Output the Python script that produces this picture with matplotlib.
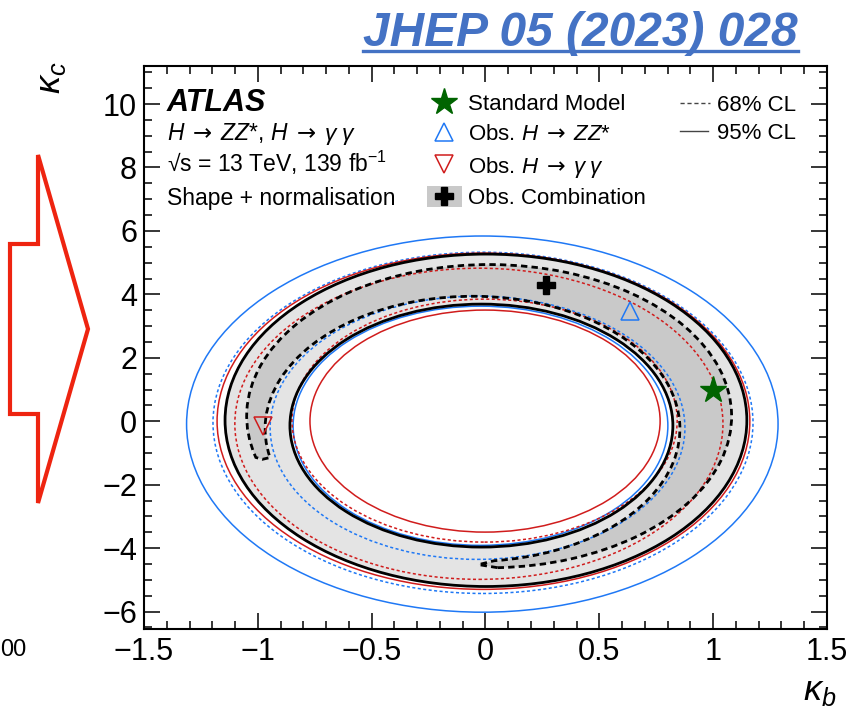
import matplotlib
matplotlib.use('Agg')
import matplotlib.pyplot as plt
from matplotlib.patches import Ellipse, PathPatch, Polygon, Rectangle
from matplotlib.path import Path
from matplotlib.transforms import Affine2D
from matplotlib.lines import Line2D
from matplotlib.ticker import MultipleLocator, FuncFormatter

plt.rcParams['font.family'] = ['Liberation Sans', 'DejaVu Sans']
plt.rcParams['mathtext.fontset'] = 'custom'
plt.rcParams['mathtext.rm'] = 'Liberation Sans'
plt.rcParams['mathtext.it'] = 'Liberation Sans:italic'
plt.rcParams['mathtext.bf'] = 'Liberation Sans:bold'
plt.rcParams['mathtext.sf'] = 'DejaVu Sans'

W, H = 853, 721

# contour rings, outer and inner edge: (kb centre, kc centre, half width, half height)
zz_95 = [(-0.014, -0.09, 1.299, 5.93), (-0.022, -0.142, 0.823, 3.77)]
zz_68 = [(-0.011, -0.05, 1.186, 5.38), (-0.035, -0.205, 0.911, 4.15)]
yy_95 = [(-0.009, 0.00, 1.170, 5.30), (-0.002, 0.005, 0.769, 3.50)]
yy_68 = [(-0.029, -0.08, 1.072, 4.905), (-0.004, 0.02, 0.846, 3.83)]
comb_95 = [(0.002, 0.03, 1.146, 5.24), (-0.018, -0.137, 0.841, 3.83)]

# combined 68% region is open: outer / inner arcs (centre, half axes, start, end angle) and the two tips
comb_68_outer = (0.016, 0.16, 1.065, 4.78, -88.0, 195.8)
comb_68_inner = (-0.057, -0.24, 0.911, 4.18, -84.0, 192.5)
comb_68_tips = [(-0.98, -1.20), (-0.03, -4.52)]

sm_point = (1.0, 1.0)
zz_best = (0.635, 3.47)
yy_best = (-0.976, -0.15)
comb_best = (0.264, 4.28)

blue = '#1f78f5'
red = '#d01c1c'
green = '#006400'

ARROW = r'\;\mathsf{\rightarrow}\;'


def fx(x):
    return x / W


def fy(y):
    return 1 - y / H


def arc_path(xc, yc, a, b, t0, t1):
    return Path.arc(t0, t1).transformed(Affine2D().scale(a, b).translate(xc, yc))


def ring(ax, rings, color, lw, ls, z):
    for xc, yc, a, b in rings:
        ax.add_patch(Ellipse((xc, yc), 2 * a, 2 * b, fill=False, ec=color,
                             lw=lw, ls=ls, zorder=z))


fig = plt.figure(figsize=(W / 100, H / 100), dpi=100)
ax = fig.add_axes([fx(144), fy(629), (827 - 144) / W, (629 - 66) / H])

# grey bands of the combination
xc, yc, a, b = comb_95[0]
ax.add_patch(Ellipse((xc, yc), 2 * a, 2 * b, fc='#e4e4e4', ec='none', zorder=1))
xc, yc, a, b = comb_95[1]
ax.add_patch(Ellipse((xc, yc), 2 * a, 2 * b, fc='white', ec='none', zorder=1.02))

outer = arc_path(*comb_68_outer)
inner = arc_path(*comb_68_inner)
verts = (list(outer.vertices) + [comb_68_tips[0]] + list(inner.vertices[::-1])
         + [comb_68_tips[1], outer.vertices[0]])
codes = (list(outer.codes) + [Path.LINETO, Path.LINETO]
         + [Path.CURVE4] * (len(inner.vertices) - 1) + [Path.LINETO, Path.CLOSEPOLY])
crescent = Path(verts, codes)
ax.add_patch(PathPatch(crescent, fc='#c9c9c9', ec='none', zorder=1.05))

thin_dash = (0, (2.0, 1.6))
ring(ax, zz_95, blue, 1.1, '-', 2)
ring(ax, zz_68, blue, 1.1, thin_dash, 2)
ring(ax, yy_95, red, 1.1, '-', 2.1)
ring(ax, yy_68, red, 1.1, thin_dash, 2.1)
ring(ax, comb_95, 'black', 2.0, '-', 3)
ax.add_patch(PathPatch(crescent, fill=False, ec='black', lw=2.0,
                       ls=(0, (2.3, 1.5)), zorder=3))

ax.plot(*sm_point, marker='*', ms=20, color=green, zorder=6)
ax.plot(*zz_best, marker='^', ms=13, mfc='none', mec=blue, mew=1.1, zorder=6)
ax.plot(*yy_best, marker='v', ms=13, mfc='none', mec=red, mew=1.1, zorder=6)
ax.plot(*comb_best, marker='P', ms=13, color='black', zorder=6)

ax.set_xlim(-1.5, 1.5)
ax.set_ylim(-6.55, 11.2)
ax.xaxis.set_major_locator(MultipleLocator(0.5))
ax.xaxis.set_minor_locator(MultipleLocator(0.1))
ax.yaxis.set_major_locator(MultipleLocator(2))
ax.yaxis.set_minor_locator(MultipleLocator(0.5))
fmt = FuncFormatter(lambda v, p: ('%g' % v).replace('-', '\u2212'))
ax.xaxis.set_major_formatter(fmt)
ax.yaxis.set_major_formatter(fmt)
ax.tick_params(which='both', direction='in', top=True, right=True, width=1.1,
               labelsize=22)
ax.tick_params(which='major', length=11.5)
ax.tick_params(which='minor', length=5.8)
ax.tick_params(axis='y', pad=5)
ax.tick_params(axis='x', pad=6)
for s in ax.spines.values():
    s.set_linewidth(1.5)

# axis titles
fig.text(fx(50), fy(62), r'$\kappa_c$', fontsize=26, rotation=90, ha='center', va='top')
fig.text(fx(836), fy(700), r'$\kappa_b$', fontsize=26, ha='right', va='baseline')

# labels in the frame
fig.text(fx(167), fy(111), 'ATLAS', fontsize=22, fontweight='bold', style='italic')
fig.text(fx(167), fy(140), r'$H' + ARROW + r'ZZ$*, $H' + ARROW + r'\gamma\;\gamma$',
         fontsize=16.5)
fig.text(fx(167), fy(172), '\u221as = 13 TeV, 139 fb$^{\\mathrm{-1}}$', fontsize=16.5)
fig.text(fx(167), fy(205), 'Shape + normalisation', fontsize=16.5)

# legend
kx, tx = 444, 468
rows = [102, 132, 164, 196]
fig.add_artist(Line2D([fx(kx)], [fy(rows[0])], marker='*', ms=20, color=green))
fig.add_artist(Line2D([fx(kx)], [fy(rows[1])], marker='^', ms=13, mfc='none', mec=blue, mew=1.1))
fig.add_artist(Line2D([fx(kx)], [fy(rows[2])], marker='v', ms=13, mfc='none', mec=red, mew=1.1))
fig.add_artist(Rectangle((fx(427), fy(207)), (462 - 427) / W, (207 - 186) / H,
                         transform=fig.transFigure, fc='#c9c9c9', ec='none'))
fig.add_artist(Line2D([fx(kx)], [fy(rows[3])], marker='P', ms=13, color='black'))
leg_text = ['Standard Model', r'Obs. $H' + ARROW + r'ZZ$*',
            r'Obs. $H' + ARROW + r'\gamma\;\gamma$', 'Obs. Combination']
for r, t in zip(rows, leg_text):
    fig.text(fx(tx), fy(r), t, fontsize=16, va='center_baseline')

fig.add_artist(Line2D([fx(680), fx(710)], [fy(103)] * 2, color='#444444', lw=1,
                      ls=(0, (3, 2))))
fig.add_artist(Line2D([fx(680), fx(708)], [fy(131)] * 2, color='#444444', lw=1))
fig.text(fx(717), fy(103), '68% CL', fontsize=16, va='center_baseline')
fig.text(fx(717), fy(131), '95% CL', fontsize=16, va='center_baseline')

# reference link above the frame
blue_link = '#4472c4'
ttl = fig.text(fx(363), fy(46), 'JHEP 05 (2023) 028', fontsize=34.5, fontweight='bold',
               style='italic', color=blue_link, va='baseline')
fig.canvas.draw()
bb = ttl.get_window_extent().transformed(fig.transFigure.inverted())
fig.add_artist(Line2D([bb.x0, bb.x1], [fy(51)] * 2, color=blue_link, lw=2.4))

# arrow outline at the left
arrow = [(38, 155), (38, 244), (10, 244), (10, 414), (38, 414), (38, 503), (88, 329)]
fig.add_artist(Polygon([(fx(x), fy(y)) for x, y in arrow], closed=True, fill=False,
                       ec='#ee2410', lw=3, joinstyle='miter', transform=fig.transFigure))

fig.text(fx(0), fy(656), '00', fontsize=17, ha='left', va='baseline')

fig.savefig('out.png', dpi=100)
